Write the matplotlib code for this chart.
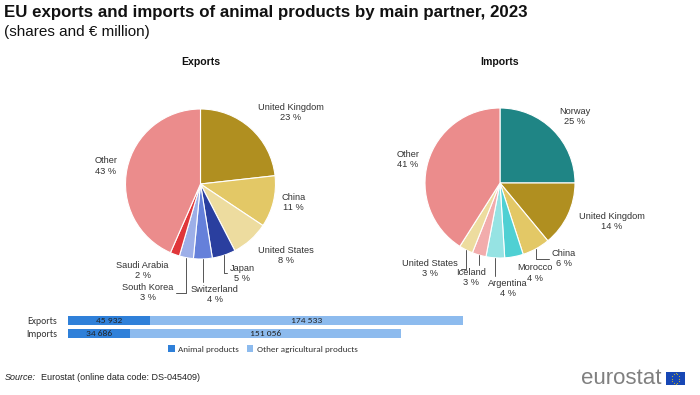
import numpy as np
import matplotlib
matplotlib.use('Agg')
import matplotlib.pyplot as plt
from matplotlib import font_manager

# Data
exp_names = ['United Kingdom', 'China', 'United States', 'Japan', 'Switzerland',
             'South Korea', 'Saudi Arabia', 'Other']
exp_shares = [23, 11, 8, 5, 4, 3, 2, 43]
imp_names = ['Norway', 'United Kingdom', 'China', 'Morocco', 'Argentina',
             'Iceland', 'United States', 'Other']
imp_shares = [25, 14, 6, 4, 4, 3, 3, 41]

flow_labels = ['Exports', 'Imports']
animal_values = [45932, 34686]
other_values = [174533, 151056]

# Styles
exp_colors = ['#B08F20', '#E3C866', '#EDDC9F', '#2A3F9F', '#6580DA',
              '#9DAFE8', '#E0363A', '#EB8C8C']
imp_colors = ['#1F8585', '#B08F20', '#E3C866', '#4FD0D3', '#96E3E3',
              '#F2ACAC', '#EDDC9F', '#EB8C8C']

# label positions (pie radius units) and whether a leader line is drawn
exp_label_pos = [(1.20, 0.95), (1.24, -0.25), (1.14, -0.95), (0.56, -1.19),
                 (0.19, -1.47), (-0.70, -1.45), (-0.77, -1.15), (-1.26, 0.24)]
exp_leaders = [False, False, False, True, True, True, False, False]
imp_label_pos = [(1.00, 0.89), (1.49, -0.51), (0.85, -1.01), (0.47, -1.20),
                 (0.11, -1.41), (-0.39, -1.26), (-0.93, -1.14), (-1.23, 0.31)]
imp_leaders = [False, False, True, False, True, True, True, False]

names = {f.name for f in font_manager.fontManager.ttflist}

def pick(options):
    for o in options:
        if o in names:
            return o
    return 'DejaVu Sans'

arial = pick(['Liberation Sans', 'Arimo', 'DejaVu Sans'])
calib = pick(['Carlito', 'Lato', 'Open Sans'])
plt.rcParams['font.family'] = [arial, 'DejaVu Sans']

W, H = 700, 395
fig = plt.figure(figsize=(7, 3.95), dpi=100)

def px_axes(left, top, width, height):
    return fig.add_axes([left / W, (H - top - height) / H, width / W, height / H])

R = 75  # pie radius in pixels

def draw_pie(cx, cy, title, shares, labels, colors, positions, leaders):
    ax = px_axes(cx - 2 * R, cy - 1.6 * R, 4 * R, 3.2 * R)
    wedges, _ = ax.pie(shares, colors=colors, startangle=90, counterclock=False,
                       wedgeprops=dict(edgecolor='white', linewidth=0.8))
    ax.set_aspect('auto')
    ax.set_xlim(-2, 2)
    ax.set_ylim(-1.6, 1.6)
    ax.axis('off')
    for w, name, share, pos, lead in zip(wedges, labels, shares, positions, leaders):
        ang = np.deg2rad((w.theta1 + w.theta2) / 2)
        edge = (np.cos(ang), np.sin(ang))
        txt = f'{name}\n{share} %'
        if lead:
            ax.annotate(txt, xy=edge, xytext=pos, ha='center', va='center',
                        fontsize=6.7, color='#333333', linespacing=1.15,
                        arrowprops=dict(arrowstyle='-', color='#555555', lw=0.7,
                                        shrinkA=0, shrinkB=0,
                                        connectionstyle='angle,angleA=0,angleB=90,rad=0'))
        else:
            ax.text(pos[0], pos[1], txt, ha='center', va='center',
                    fontsize=6.7, color='#333333', linespacing=1.15)
    fig.text(cx / W, 1 - 62 / H, title, ha='center', va='center',
             fontsize=7.6, fontweight='bold', color='#111111')

draw_pie(200.5, 184, 'Exports', exp_shares, exp_names, exp_colors,
         exp_label_pos, exp_leaders)
draw_pie(500, 183, 'Imports', imp_shares, imp_names, imp_colors,
         imp_label_pos, imp_leaders)

# Titles
fig.text(4 / W, 1 - 12 / H, 'EU exports and imports of animal products by main partner, 2023',
         ha='left', va='center', fontsize=12.2, fontweight='bold', color='#111111')
fig.text(4 / W, 1 - 32 / H, '(shares and € million)', ha='left', va='center',
         fontsize=11, color='#111111')

# Stacked bars
total_max = max(a + o for a, o in zip(animal_values, other_values))
bax = px_axes(68, 313.35, 395, 27.3)
y = np.arange(len(flow_labels))
bfont = [calib, 'DejaVu Sans']
b1 = bax.barh(y, animal_values, height=0.69, color='#2F80D9', label='Animal products')
b2 = bax.barh(y, other_values, left=animal_values, height=0.69, color='#8DBBEE',
              label='Other agricultural products')
for i in range(len(flow_labels)):
    bax.text(animal_values[i] / 2, y[i], f'{animal_values[i]:,}'.replace(',', ' '),
             ha='center', va='center', fontsize=6.8, color='#222222', family=bfont)
    bax.text(animal_values[i] + other_values[i] / 2, y[i],
             f'{other_values[i]:,}'.replace(',', ' '),
             ha='center', va='center', fontsize=6.8, color='#222222', family=bfont)
bax.set_xlim(0, total_max)
bax.set_ylim(1.55, -0.55)
bax.set_yticks(y)
bax.set_yticklabels(flow_labels, family=bfont, fontsize=7, color='#333333')
bax.tick_params(axis='y', length=0, pad=8)
bax.set_xticks([])
for s in bax.spines.values():
    s.set_visible(False)
bax.patch.set_alpha(0)
leg = fig.legend(handles=[b1, b2], loc='center', bbox_to_anchor=(263 / W, 1 - 349 / H),
                 ncol=2, frameon=False, prop={'family': bfont, 'size': 6.6},
                 handlelength=0.7, handleheight=0.7, handletextpad=0.4,
                 columnspacing=0.8)
for t in leg.get_texts():
    t.set_color('#333333')

# Source
src = fig.text(5 / W, 1 - 377 / H, 'Source:', ha='left', va='center', fontsize=6.5,
               style='italic', color='#222222')
renderer = fig.canvas.get_renderer()
x_end = src.get_window_extent(renderer).x1
fig.text((x_end + 5) / W, 1 - 377 / H, 'Eurostat (online data code: DS-045409)',
         ha='left', va='center', fontsize=6.5, color='#222222')

# Logo
fig.text(662 / W, 1 - 378 / H, 'eurostat', ha='right', va='center', fontsize=16,
         color='#808080', family=[arial, 'DejaVu Sans'])
flag = px_axes(666, 372, 19, 13)
flag.set_facecolor('#1747B5')
flag.set_xlim(-1.5, 1.5)
flag.set_ylim(-1, 1)
ang = np.linspace(0, 2 * np.pi, 12, endpoint=False)
flag.scatter(0.62 * np.cos(ang), 0.62 * np.sin(ang) * 1.4, marker='*', s=1.5,
             color='#FFDD00', linewidths=0)
flag.set_xticks([])
flag.set_yticks([])
for s in flag.spines.values():
    s.set_visible(False)

fig.savefig('out.png', dpi=100)
